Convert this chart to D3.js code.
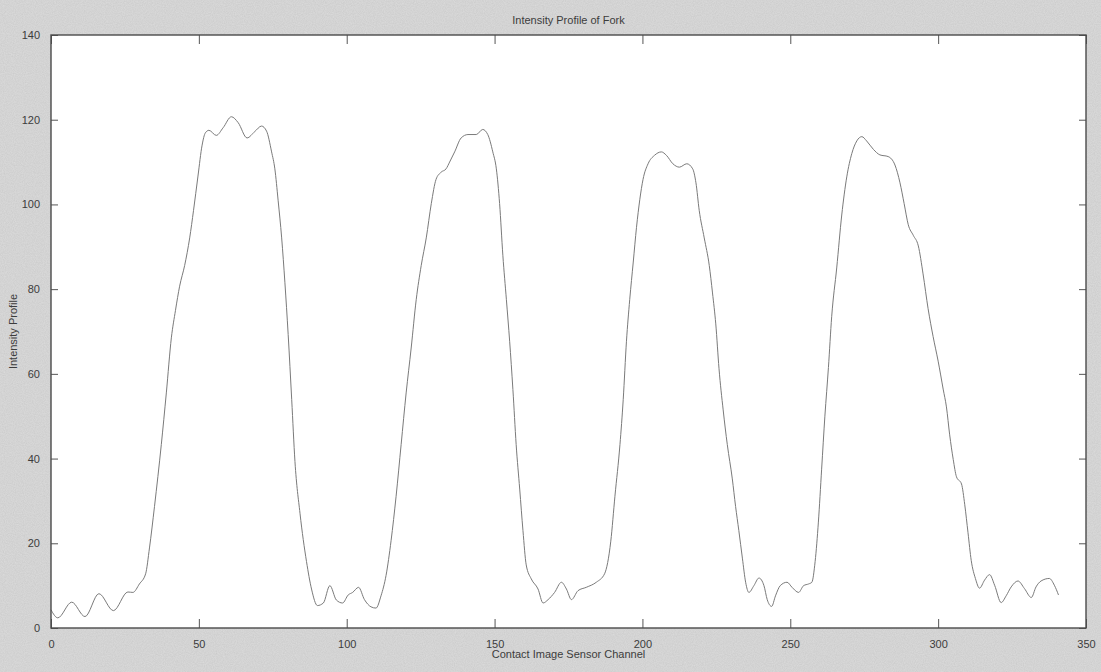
<!DOCTYPE html>
<html>
<head>
<meta charset="utf-8">
<script src="https://cdn.jsdelivr.net/npm/d3@7"></script>
<style>
  html, body { margin: 0; padding: 0; background: #d5d5d5; }
  svg { display: block; }
  text { font-family: "Liberation Sans", Arial, sans-serif; }
</style>
</head>
<body>
<svg id="chart" width="1101" height="672"></svg>
<script>
// ---- data ----
const title = "Intensity Profile of Fork";
const xLabel = "Contact Image Sensor Channel";
const yLabel = "Intensity Profile";
const xTicks = [0, 50, 100, 150, 200, 250, 300, 350];
const yTicks = [0, 20, 40, 60, 80, 100, 120, 140];

const channel = [
  0, 2.3, 7, 11.5, 16.2, 21.1, 26, 27.7, 29.9, 32, 33.3, 35, 37.3, 39, 40.7, 42.1, 43.5, 45.2, 46.9, 48.2,
  49.7, 51.1, 52.2, 53.4, 55.9, 58.2, 61, 63.3, 66.3, 68.9, 71.2, 72.9, 74.6, 75.7, 76.8, 78, 79.1, 80.2,
  81.4, 82.5, 84.2, 86.4, 88.1, 90.1, 92.1, 94.3, 96.5, 98.6, 100.5, 102, 104, 106, 108.2, 109.9, 111.6,
  113.3, 115, 116.7, 118.4, 120.1, 121.8, 123.5, 125.2, 126.9, 128.6, 130.2, 131.9, 133.6, 134.8, 136.5,
  138.7, 141, 143.8, 146, 147.7, 149.4, 150.6, 151.7, 152.8, 154, 155.1, 156.2, 157.3, 158.5, 159.6, 160.7,
  162.4, 164.7, 166.4, 168.1, 170.3, 172.6, 174.3, 176, 178.2, 181, 184.4, 187.2, 189.3, 190.7, 192.4, 193.5,
  194.6, 195.7, 196.9, 198, 199.1, 200.2, 201.9, 204.1, 206.4, 208.1, 210.3, 212.5, 215, 217, 218.1, 219.2,
  220.9, 222.6, 223.7, 224.8, 225.9, 227.3, 228.7, 230.4, 231.5, 232.6, 233.8, 234.9, 236, 237.7, 239.4,
  241.1, 242.2, 243.7, 245, 246.6, 248.9, 250.6, 252.8, 254.5, 256.2, 257.3, 258.4, 259.5, 260.6, 261.7,
  262.9, 264, 265.7, 267.4, 269.1, 270.8, 272.5, 274.2, 275.8, 278.1, 280.3, 283.1, 285.4, 287.1, 288.5,
  289.9, 291.6, 293.3, 294.9, 296.6, 298.3, 300, 301.7, 302.8, 303.9, 305.1, 306.2, 307.9, 309, 310.1,
  311.2, 312.6, 314, 315.7, 317.4, 319.1, 321.3, 323, 324.7, 327, 329.2, 331.5, 333.1, 334.8, 337.6,
  339.3, 340.7
];
const intensity = [
  4.3, 2.4, 6.1, 2.7, 8.1, 4.1, 8.5, 8.4, 10.4, 12.8, 18.9, 28.7, 43.3, 55.5, 68.5, 75, 80.7, 85.6, 92.1, 98.6,
  106.7, 114, 116.9, 117.5, 116.3, 118.1, 120.7, 119.3, 115.7, 117.2, 118.5, 117.3, 112.4, 108.4, 101, 92.1, 81.5, 69.3,
  53.9, 39.3, 27.1, 15.7, 9.2, 5.3, 5.9, 10, 6.6, 5.9, 7.8, 8.4, 9.6, 6.7, 5, 4.7, 7.6,
  12.4, 20.6, 31.1, 43.3, 55.5, 66.1, 77.5, 85.6, 92.1, 100.2, 105.9, 107.6, 108.4, 110, 112.4,
  115.7, 116.5, 116.5, 117.7, 116.5, 112.4, 108.4, 100.2, 88, 77.5, 67.7, 56.3, 43.3, 32.8, 23, 14.9,
  11.6, 9.2, 5.9, 6.7, 8.4, 10.8, 9.2, 6.7, 8.8, 9.6, 10.8, 12.8, 20.5, 31.1, 43.3, 53.9,
  67.7, 77.5, 86.4, 94.6, 101.1, 105.9, 109.6, 111.6, 112.4, 111.6, 109.6, 108.8, 109.6, 108.4, 105.1, 98.6,
  92.1, 85.6, 79.1, 71.8, 61.2, 51.5, 43.3, 35.2, 28.7, 23, 16.5, 10.8, 8.4, 10, 11.8,
  10, 6.7, 5.1, 7.6, 10, 10.8, 9.6, 8.4, 10, 10.4, 10.8, 15.7, 25, 37.5, 50,
  61.5, 73.5, 85, 97.5, 106.5, 112, 115, 116, 115, 113, 111.7, 111.3, 109.3, 105.1, 100.2,
  95.2, 92.7, 90.2, 83.6, 75.4, 68.8, 63, 56.4, 52.2, 45.6, 39.8, 35.7, 34, 29.1, 22.5,
  15.9, 11.7, 9.4, 11.3, 12.6, 10.1, 6, 7.6, 9.7, 11.1, 9.3, 7.2, 9.7, 11.1, 11.7,
  10.1, 7.8
];

// ---- layout ----
const W = 1101, H = 672;
const margin = { left: 51, right: 15, top: 35, bottom: 44 };
const iw = W - margin.left - margin.right;
const ih = H - margin.top - margin.bottom;

const svg = d3.select("#chart");

// grainy scanned background
const defs = svg.append("defs");
const f = defs.append("filter").attr("id", "grain").attr("x", 0).attr("y", 0).attr("width", "100%").attr("height", "100%");
f.append("feTurbulence").attr("type", "fractalNoise").attr("baseFrequency", 0.9).attr("numOctaves", 2).attr("seed", 3).attr("result", "n");
f.append("feColorMatrix").attr("in", "n").attr("type", "matrix")
  .attr("values", "0 0 0 0 0.5  0 0 0 0 0.5  0 0 0 0 0.5  0 0 0 0.35 0").attr("result", "g");
f.append("feBlend").attr("in", "SourceGraphic").attr("in2", "g").attr("mode", "multiply");

svg.append("rect").attr("width", W).attr("height", H).attr("fill", "#dcdcdc").attr("filter", "url(#grain)");

const x = d3.scaleLinear().domain([0, 350]).range([0, iw]);
const y = d3.scaleLinear().domain([0, 140]).range([ih, 0]);

const g = svg.append("g").attr("transform", `translate(${margin.left},${margin.top})`);

g.append("rect").attr("width", iw).attr("height", ih).attr("fill", "#ffffff");

// line
const pts = channel.map((c, i) => [c, intensity[i]]);
g.append("path")
  .datum(pts)
  .attr("fill", "none")
  .attr("stroke", "#7a7a7a")
  .attr("stroke-width", 1)
  .attr("d", d3.line().x(d => x(d[0])).y(d => y(d[1])).curve(d3.curveMonotoneX));

// axes (MATLAB style: ticks inward on all four sides)
const tl = 9;
const styleAxis = sel => {
  sel.select(".domain").remove();
  sel.selectAll(".tick line").attr("stroke", "#555").attr("stroke-width", 1);
  sel.selectAll(".tick text").attr("fill", "#3c3c3c").style("font-size", "11px").style("font-family", "'Liberation Sans', Arial, sans-serif");
};
g.append("g").attr("transform", `translate(0,${ih})`)
  .call(d3.axisBottom(x).tickValues(xTicks).tickSizeInner(-tl).tickSizeOuter(0).tickPadding(tl + 3))
  .call(styleAxis);
g.append("g")
  .call(d3.axisTop(x).tickValues(xTicks).tickSizeInner(-tl).tickSizeOuter(0).tickFormat(""))
  .call(styleAxis);
g.append("g")
  .call(d3.axisLeft(y).tickValues(yTicks).tickSizeInner(-7).tickSizeOuter(0).tickPadding(4 + 7))
  .call(styleAxis);
g.append("g").attr("transform", `translate(${iw},0)`)
  .call(d3.axisRight(y).tickValues(yTicks).tickSizeInner(-7).tickSizeOuter(0).tickFormat(""))
  .call(styleAxis);

// frame
g.append("rect").attr("width", iw).attr("height", ih).attr("fill", "none").attr("stroke", "#4a4a4a").attr("stroke-width", 1.4);

// title and labels
svg.append("text").attr("x", margin.left + iw / 2).attr("y", 24).attr("text-anchor", "middle")
  .attr("fill", "#3c3c3c").style("font-size", "11px").text(title);
svg.append("text").attr("x", margin.left + iw / 2).attr("y", 658).attr("text-anchor", "middle")
  .attr("fill", "#3c3c3c").style("font-size", "11px").text(xLabel);
svg.append("text").attr("transform", `translate(17,${margin.top + ih / 2}) rotate(-90)`).attr("text-anchor", "middle")
  .attr("fill", "#3c3c3c").style("font-size", "11px").text(yLabel);
</script>
</body>
</html>
